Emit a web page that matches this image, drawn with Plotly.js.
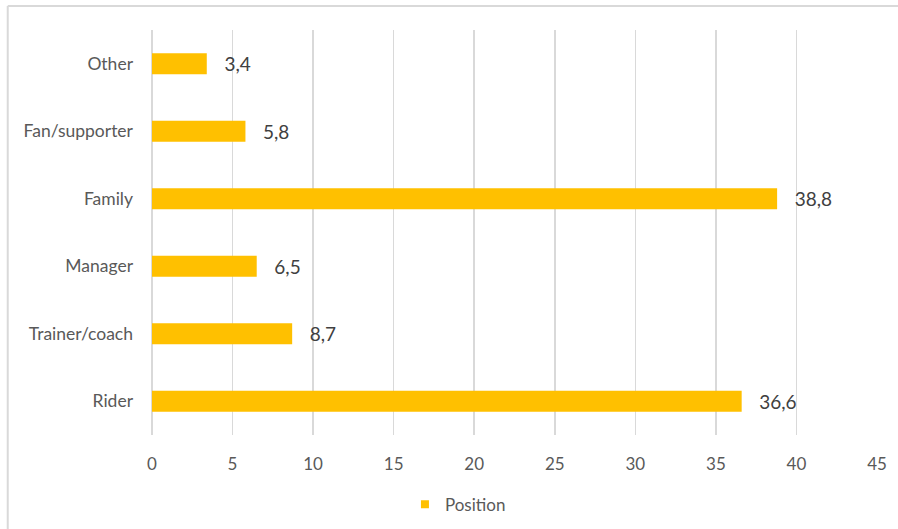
<!DOCTYPE html>
<html>
<head>
<meta charset="utf-8">
<script src="https://cdn.plot.ly/plotly-3.0.1.min.js"></script>
<style>
html, body { margin: 0; padding: 0; background: #ffffff; }
#chart { width: 898px; height: 529px; }
</style>
</head>
<body>
<div id="chart"></div>
<script>
const categories = ["Rider", "Trainer/coach", "Manager", "Family", "Fan/supporter", "Other"];
const values = [36.6, 8.7, 6.5, 38.8, 5.8, 3.4];
const seriesName = "Position";
const xTicks = [0, 5, 10, 15, 20, 25, 30, 35, 40, 45];

const barColor = "#FFC000";
const FONT = "Lato, 'Open Sans', sans-serif";

const traces = [
  {
    type: "bar",
    orientation: "h",
    y: categories,
    x: values,
    name: seriesName,
    marker: { color: barColor },
    texttemplate: "\u00a0\u00a0\u00a0%{x:.1f}",
    textposition: "outside",
    constraintext: "none",
    cliponaxis: false,
    textfont: { family: FONT, size: 19, color: "#404040" },
    showlegend: false,
    hoverinfo: "skip"
  },
  {
    type: "scatter",
    mode: "markers",
    x: [null],
    y: [null],
    name: seriesName,
    marker: { color: barColor, symbol: "square", size: 8 },
    showlegend: true
  }
];

const layout = {
  width: 898,
  height: 529,
  margin: { l: 152, r: 21, t: 30, b: 94, autoexpand: false },
  paper_bgcolor: "#ffffff",
  plot_bgcolor: "#ffffff",
  separators: ",.",
  bargap: 0.69,
  font: { family: FONT, size: 17, color: "#595959" },
  xaxis: {
    range: [0, 45],
    tickvals: xTicks,
    ticktext: xTicks.map(String),
    showgrid: true,
    gridcolor: "#d9d9d9",
    gridwidth: 1.5,
    zeroline: true,
    zerolinecolor: "#d9d9d9",
    zerolinewidth: 1.5,
    showline: false,
    ticks: "",
    ticklabelstandoff: 17,
    tickfont: { family: FONT, size: 17, color: "#595959" },
    fixedrange: true
  },
  yaxis: {
    type: "category",
    categoryorder: "array",
    categoryarray: categories,
    showgrid: false,
    zeroline: false,
    showline: false,
    ticks: "",
    ticklabelstandoff: 18,
    tickfont: { family: FONT, size: 17.5, color: "#595959" },
    fixedrange: true
  },
  legend: {
    orientation: "h",
    x: 0.422,
    xanchor: "center",
    y: -0.172,
    yanchor: "middle",
    font: { family: FONT, size: 17, color: "#595959" },
    itemwidth: 30
  },
  shapes: [
    { type: "line", xref: "paper", yref: "paper", x0: -0.199, x1: 1.1, y0: 1.0593, y1: 1.0593, line: { color: "#d9d9d9", width: 2 } },
    { type: "line", xref: "paper", yref: "paper", x0: -0.199, x1: -0.199, y0: -0.3, y1: 1.0593, line: { color: "#d9d9d9", width: 2 } }
  ]
};

Plotly.newPlot("chart", traces, layout, { displayModeBar: false, staticPlot: true });
</script>
</body>
</html>
